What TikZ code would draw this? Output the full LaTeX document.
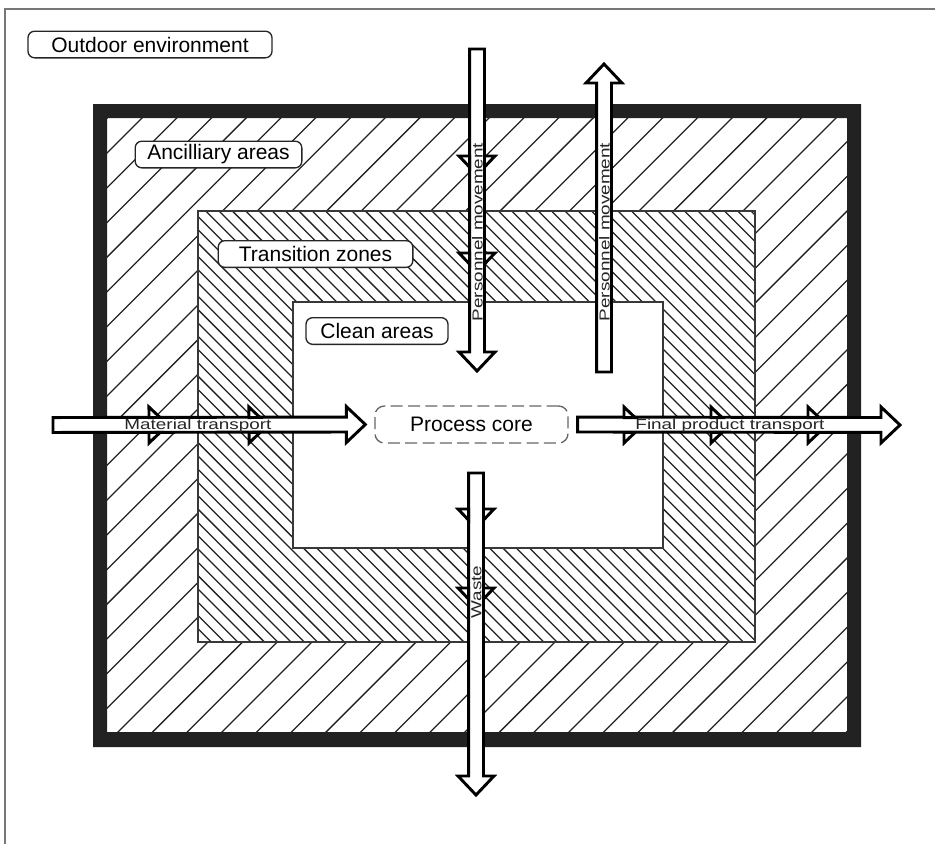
\documentclass[tikz,border=0pt]{standalone}
\usepackage{fontspec}
\setmainfont{Liberation Sans}
\usepackage{graphicx}
\usepackage{tikz}
\usetikzlibrary{calc}

\definecolor{ink}{HTML}{222222}
\definecolor{framegray}{HTML}{777777}
\definecolor{coregray}{HTML}{666666}

\tikzset{
    frameline/.style={draw=framegray, line width=1.2pt},
    hatchline/.style={draw=ink, line width=0.95pt},
    zoneedge/.style={draw=ink!90, line width=1.3pt},
    zonelabel/.style={draw=black!85, line width=1pt, fill=white, rounded corners=5pt, minimum height=20pt, inner sep=0pt, font=\fontsize{15.75}{18}\selectfont},
    corebox/.style={draw=coregray, line width=1pt, dash pattern=on 9pt off 4pt, rounded corners=7pt, minimum width=144.75pt, minimum height=27.75pt, inner sep=0pt, font=\fontsize{15.75}{18}\selectfont},
    flowline/.style={draw=black, fill=white, line width=2.2pt, line join=miter},
    flowtext/.style={inner sep=0pt, text=black!85, font=\fontsize{10.9}{12}\selectfont}
}

% wide lettering on the arrows
\newcommand\flowlabel[1]{\scalebox{1.3}[1]{#1}}

% hollow block arrow from #1 (tail) to #2 (tip)
\newcommand\flowarrow[2]{%
  \coordinate (fa-b) at ($(#2)!14.25pt!(#1)$);
  \filldraw[flowline]
    ($(#1)!5.6pt!90:(#2)$) -- ($(fa-b)!5.6pt!90:(#2)$) -- ($(fa-b)!13.5pt!90:(#2)$) -- (#2)
    -- ($(fa-b)!13.5pt!-90:(#2)$) -- ($(fa-b)!5.6pt!-90:(#2)$) -- ($(#1)!5.6pt!-90:(#2)$) -- cycle;
}
% barbs of an inner arrow head, at #1 on the axis, pointing to #2
\newcommand\flowbarb[2]{%
  \coordinate (fb-b) at (#1);
  \coordinate (fb-e) at ($(fb-b)!8.3pt!(#2)$);
  \filldraw[flowline] ($(fb-b)!5.6pt!90:(#2)$) -- ($(fb-b)!13.5pt!90:(#2)$) -- ($(fb-e)!5.6pt!90:(#2)$) -- cycle;
  \filldraw[flowline] ($(fb-b)!5.6pt!-90:(#2)$) -- ($(fb-b)!13.5pt!-90:(#2)$) -- ($(fb-e)!5.6pt!-90:(#2)$) -- cycle;
}

\begin{document}
\begin{tikzpicture}[x=0.75pt,y=-0.75pt]
  \useasboundingbox (0,0) rectangle (935,844);
  \draw[frameline] (935,9) -- (5,9) -- (5,844);

  % ancillary areas
  \begin{scope}
    \clip (107,118) rectangle (847,732);
    \foreach \k in {-2,...,40}
      \draw[hatchline] ({260+34.7*\k-760},760) -- ++(680,-680);
  \end{scope}

  % transition zones
  \fill[white] (198,211) rectangle (755,642);
  \begin{scope}
    \clip (198,211) rectangle (755,642);
    \foreach \k in {-68,...,8}
      \draw[hatchline] ({447+13.3*\k+200},200) -- ++(450,450);
  \end{scope}
  \draw[zoneedge] (198,211) rectangle (755,642);

  % clean areas
  \filldraw[zoneedge, fill=white] (293,302) rectangle (663,548);

  % wall
  \fill[ink, even odd rule] (93,104) rectangle (861,747) (107,118) rectangle (847,732);

  \node[corebox] (core) at (471.5,424.5) {Process core};

  \node[zonelabel, minimum width=183pt] (outdoor) at (150,44.5) {Outdoor environment};
  \node[zonelabel, minimum width=125pt] (ancillary) at (218.5,154.5) {Ancilliary areas};
  \node[zonelabel, minimum width=146pt] (transition) at (315.5,254) {Transition zones};
  \node[zonelabel, minimum width=106.5pt] (clean) at (377,331) {Clean areas};

  % material in
  \coordinate (mat-in) at (53,425);
  \coordinate (mat-tip) at ($(core.west)+(-9,0)$);
  \flowarrow{mat-in}{mat-tip}
  \flowbarb{149,425}{mat-tip}
  \flowbarb{249,425}{mat-tip}
  \node[flowtext] (mat-text) at (198,425.5) {\flowlabel{Material transport}};

  % product out
  \coordinate (prod-out) at ($(core.east)+(9,0)$);
  \coordinate (prod-tip) at (900,425);
  \flowarrow{prod-out}{prod-tip}
  \flowbarb{624,425}{prod-tip}
  \flowbarb{711,425}{prod-tip}
  \flowbarb{808,425}{prod-tip}
  \node[flowtext] (prod-text) at (730,425.5) {\flowlabel{Final product transport}};

  % personnel in and out
  \coordinate (staff-in) at (477,49);
  \coordinate (staff-tip) at (477,371);
  \flowarrow{staff-in}{staff-tip}
  \flowbarb{477,156}{staff-tip}
  \flowbarb{477,253}{staff-tip}
  \node[flowtext, rotate=90] (staff-text) at (477.5,232) {\flowlabel{Personnel movement}};

  \coordinate (staff-back) at (604,372);
  \coordinate (staff-out) at (604,64);
  \flowarrow{staff-back}{staff-out}
  \node[flowtext, rotate=90] (back-text) at (604.5,232) {\flowlabel{Personnel movement}};

  % waste
  \coordinate (waste-in) at (476,473);
  \coordinate (waste-tip) at (476,795);
  \flowarrow{waste-in}{waste-tip}
  \flowbarb{476,509}{waste-tip}
  \flowbarb{476,588}{waste-tip}
  \node[flowtext, rotate=90] (waste-text) at (476.5,592) {\flowlabel{Waste}};
\end{tikzpicture}
\end{document}
